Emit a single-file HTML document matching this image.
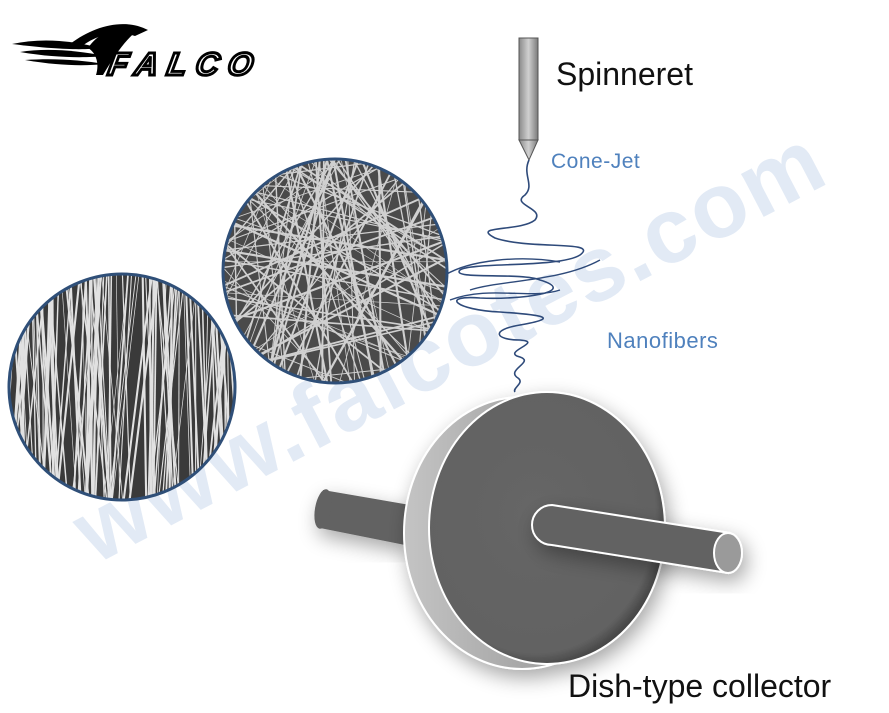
<!DOCTYPE html>
<html><head><meta charset="utf-8"><style>
body{margin:0;background:#fff;width:889px;height:713px;overflow:hidden;font-family:"Liberation Sans",sans-serif}
svg{position:absolute;left:0;top:0}
</style></head><body>
<svg width="889" height="713" viewBox="0 0 889 713" xmlns="http://www.w3.org/2000/svg">
<defs>
<linearGradient id="sp" x1="0" x2="1"><stop offset="0" stop-color="#8a8a8a"/><stop offset="0.5" stop-color="#d0d0d0"/><stop offset="1" stop-color="#7a7a7a"/></linearGradient>
<linearGradient id="rim" x1="0" x2="1"><stop offset="0" stop-color="#c4c4c4"/><stop offset="1" stop-color="#8a8a8a"/></linearGradient>
<radialGradient id="face" cx="0.45" cy="0.45" r="0.6"><stop offset="0" stop-color="#666"/><stop offset="0.85" stop-color="#626262"/><stop offset="1" stop-color="#333"/></radialGradient>
<filter id="sh" x="-30%" y="-30%" width="160%" height="160%"><feGaussianBlur in="SourceAlpha" stdDeviation="10"/><feOffset dx="4" dy="8"/><feComponentTransfer><feFuncA type="linear" slope="0.35"/></feComponentTransfer><feMerge><feMergeNode/><feMergeNode in="SourceGraphic"/></feMerge></filter>
<clipPath id="c1"><circle cx="335" cy="271" r="112"/></clipPath>
<clipPath id="c2"><circle cx="122" cy="387" r="113"/></clipPath>
</defs>

<text x="0" y="0" transform="translate(95,565) rotate(-27.5)" font-family="Liberation Sans, sans-serif" font-weight="bold" font-size="92" fill="#e2eaf5" letter-spacing="2">www.falcotes.com</text>

<g fill="#000">
<path d="M70 44 C95 25 125 18 148 30 L135 36 C118 30 98 34 82 46 Z"/>
<path d="M12 44 C40 38 70 40 100 48 C85 50 60 50 12 44 Z"/>
<path d="M20 52 C45 48 75 50 105 56 C85 58 55 58 20 52 Z"/>
<path d="M25 60 C55 58 80 60 105 64 C85 66 60 66 25 60 Z"/>
<path d="M88 48 C100 30 125 22 140 28 C125 40 115 55 103 75 L96 75 C100 62 95 52 88 48Z"/>
</g>
<text x="108" y="75" font-family="Liberation Sans, sans-serif" font-style="italic" font-weight="bold" font-size="32" letter-spacing="9" fill="none" stroke="#000" stroke-width="3" transform="skewX(-10) translate(12,0)">FALCO</text>

<rect x="519" y="38" width="19" height="102" fill="url(#sp)" stroke="#555" stroke-width="1"/>
<path d="M519 140 L538 140 L529 160 Z" fill="url(#sp)" stroke="#555"/>
<text x="556" y="85" font-size="32" fill="#111">Spinneret</text>
<text x="551" y="168" font-size="21" fill="#4f81bd" letter-spacing="0.5">Cone-Jet</text>
<text x="607" y="348" font-size="22" fill="#4f81bd" letter-spacing="0.5">Nanofibers</text>

<path d="M529 160 C522 175 535 185 525 195 C510 205 545 208 535 220 C520 232 470 225 495 238 C530 250 600 240 580 255 C560 268 470 262 460 270 C450 280 520 272 540 280 C580 292 520 300 480 298 C440 295 455 310 500 312 C545 315 560 318 520 325 C490 330 495 340 520 340 C545 342 500 352 520 357 C535 362 505 370 518 378 C525 383 512 388 515 392" fill="none" stroke="#2e4a7a" stroke-width="1.6"/>
<path d="M445 275 C470 260 520 255 560 262 M470 290 C500 280 560 282 600 260 M450 300 C490 285 530 300 560 290" fill="none" stroke="#2e4a7a" stroke-width="1.4"/>

<g clip-path="url(#c1)"><rect x="200" y="150" width="260" height="240" fill="#4a4a4a"/><g id="f1" stroke="#e8e8e8" stroke-width="1.3" opacity="0.85"></g></g>
<circle cx="335" cy="271" r="112" fill="none" stroke="#2f4f78" stroke-width="3"/>
<g clip-path="url(#c2)"><rect x="0" y="270" width="240" height="240" fill="#3a3a3a"/><g id="f2" stroke="#f4f4f4" stroke-width="1.3" opacity="0.9"></g></g>
<circle cx="122" cy="387" r="113" fill="none" stroke="#2f4f78" stroke-width="3"/>

<g filter="url(#sh)">
<path d="M323 490 L410 505 L405 545 L320 528 Z" fill="#626262"/>
<ellipse cx="323" cy="509" rx="8" ry="20" fill="#626262" transform="rotate(10 323 509)"/>
</g>
<g filter="url(#sh)">
<ellipse cx="522" cy="533" rx="118" ry="136" fill="url(#rim)" stroke="#fff" stroke-width="2"/>
<ellipse cx="547" cy="528" rx="118" ry="136" fill="url(#face)" stroke="#fff" stroke-width="2"/>
</g>
<g filter="url(#sh)">
<path d="M552 505 L730 533 L728 573 L552 545 A20 20 0 0 1 552 505 Z" fill="#626262" stroke="#fff" stroke-width="2"/>
<ellipse cx="728" cy="553" rx="14" ry="20" fill="#9a9a9a" stroke="#fff" stroke-width="2"/>
</g>

<text x="568" y="697" font-size="32" fill="#111">Dish-type collector</text>
</svg>
<script>
function rnd(s){return function(){s=(s*9301+49297)%233280;return s/233280;}}
var ns="http://www.w3.org/2000/svg";
function fill(id,cx,cy,r,n,vert,seed){var g=document.getElementById(id),R=rnd(seed);
for(var i=0;i<n;i++){var l=document.createElementNS(ns,"line"),x1,y1,x2,y2;
if(vert){x1=cx-r+R()*2*r;x2=x1+(R()-0.5)*60;y1=cy-r-5;y2=cy+r+5;}
else{var a=R()*Math.PI,px=cx+(R()-0.5)*2*r,py=cy+(R()-0.5)*2*r;x1=px-Math.cos(a)*300;y1=py-Math.sin(a)*300;x2=px+Math.cos(a)*300;y2=py+Math.sin(a)*300;}
l.setAttribute("x1",x1);l.setAttribute("y1",y1);l.setAttribute("x2",x2);l.setAttribute("y2",y2);
l.setAttribute("stroke-width",(0.6+R()*1.6).toFixed(2));g.appendChild(l);}}
fill("f1",335,271,112,110,false,7);fill("f2",122,387,113,110,true,11);
</script>
</body></html>
